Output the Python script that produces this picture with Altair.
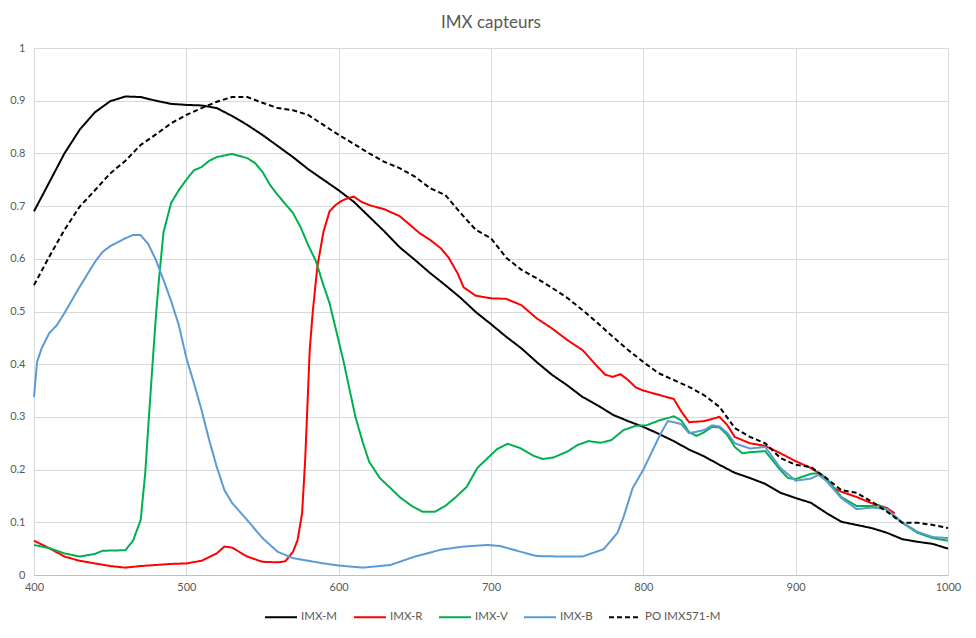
import altair as alt
import pandas as pd

# ---- data ----
series = ["IMX-M", "IMX-R", "IMX-V", "IMX-B", "PO IMX571-M"]
colors = ["#000000", "#FF0000", "#00B050", "#5B9BD5", "#000000"]
dashes = [[1, 0], [1, 0], [1, 0], [1, 0], [5, 3]]

grid_nm = list(range(400, 1001, 10))

imx_m = [0.69, 0.745, 0.80, 0.845, 0.878, 0.899, 0.908, 0.907, 0.90, 0.894,
         0.892, 0.891, 0.886, 0.871, 0.854, 0.835, 0.814, 0.793, 0.77, 0.75,
         0.73, 0.708, 0.68, 0.652, 0.622, 0.598, 0.573, 0.55, 0.526, 0.499,
         0.476, 0.452, 0.43, 0.404, 0.38, 0.36, 0.338, 0.322, 0.304, 0.292,
         0.281, 0.268, 0.254, 0.238, 0.225, 0.209, 0.194, 0.184, 0.173, 0.156,
         0.146, 0.137, 0.118, 0.101, 0.095, 0.089, 0.08, 0.068, 0.063, 0.059,
         0.05]

po_imx571_m = [0.55, 0.604, 0.655, 0.699, 0.73, 0.762, 0.786, 0.816, 0.836, 0.857,
               0.873, 0.886, 0.898, 0.907, 0.907, 0.896, 0.886, 0.882, 0.873, 0.854,
               0.835, 0.818, 0.80, 0.784, 0.772, 0.756, 0.734, 0.721, 0.687, 0.655,
               0.639, 0.602, 0.579, 0.563, 0.545, 0.526, 0.503, 0.478, 0.452, 0.427,
               0.404, 0.383, 0.37, 0.357, 0.341, 0.319, 0.279, 0.262, 0.25, 0.222,
               0.209, 0.205, 0.184, 0.161, 0.156, 0.139, 0.12, 0.099, 0.099, 0.095,
               0.089]

r_nm = [400, 410, 420, 430, 440, 450, 460, 470, 480, 490, 500, 510, 520, 525, 530,
        540, 550, 560, 565, 570, 573, 576, 578, 580, 581, 583, 586, 590, 594, 598,
        602, 606, 610, 615, 620, 630, 640, 647, 653, 660, 667, 672, 678, 682, 690,
        700, 710, 720, 730, 740, 750, 760, 770, 775, 780, 785, 790, 795, 800, 810,
        820, 825, 830, 840, 850, 855, 860, 870, 880, 890, 900, 910, 920, 925, 930,
        940, 950, 960, 965]
imx_r = [0.065, 0.051, 0.035, 0.027, 0.022, 0.017, 0.014, 0.017, 0.019, 0.021,
         0.022, 0.027, 0.041, 0.054, 0.052, 0.035, 0.025, 0.024, 0.026, 0.044,
         0.066, 0.117, 0.218, 0.357, 0.427, 0.50, 0.585, 0.651, 0.69, 0.702,
         0.71, 0.715, 0.718, 0.708, 0.702, 0.694, 0.681, 0.664, 0.649, 0.636,
         0.62, 0.603, 0.573, 0.546, 0.53, 0.525, 0.524, 0.512, 0.487, 0.468,
         0.446, 0.427, 0.395, 0.38, 0.376, 0.381, 0.37, 0.356, 0.35, 0.342,
         0.334, 0.31, 0.29, 0.292, 0.30, 0.285, 0.262, 0.25, 0.245, 0.231,
         0.216, 0.203, 0.184, 0.165, 0.158, 0.148, 0.136, 0.127, 0.117]

v_nm = [400, 410, 420, 430, 440, 445, 460, 465, 470, 473, 475, 478, 480, 482, 485,
        490, 495, 500, 505, 510, 515, 520, 530, 540, 545, 550, 555, 560, 570, 575,
        580, 585, 590, 594, 603, 611, 616, 620, 627, 634, 640, 648, 655, 663, 670,
        677, 684, 691, 704, 711, 719, 728, 734, 741, 750, 757, 764, 772, 779, 787,
        795, 802, 811, 820, 825, 830, 835, 840, 845, 850, 855, 860, 865, 870, 880,
        890, 895, 900, 910, 915, 920, 930, 940, 950, 955, 960, 970, 980, 990, 1000]
imx_v = [0.057, 0.051, 0.041, 0.035, 0.04, 0.046, 0.047, 0.065, 0.104, 0.193,
         0.281, 0.408, 0.49, 0.56, 0.65, 0.706, 0.73, 0.75, 0.768, 0.774,
         0.786, 0.793, 0.799, 0.791, 0.782, 0.765, 0.74, 0.721, 0.687, 0.66,
         0.626, 0.596, 0.55, 0.516, 0.408, 0.30, 0.25, 0.215, 0.184, 0.165,
         0.148, 0.131, 0.12, 0.12, 0.131, 0.148, 0.167, 0.203, 0.239, 0.249,
         0.241, 0.226, 0.22, 0.223, 0.234, 0.247, 0.254, 0.251, 0.256, 0.275,
         0.283, 0.284, 0.294, 0.301, 0.293, 0.271, 0.264, 0.271, 0.281, 0.28,
         0.266, 0.243, 0.231, 0.233, 0.235, 0.199, 0.184, 0.182, 0.192, 0.193,
         0.184, 0.148, 0.131, 0.131, 0.132, 0.123, 0.099, 0.08, 0.07, 0.065]

b_nm = [400, 402, 405, 410, 415, 420, 425, 430, 440, 445, 450, 460, 465, 470, 475,
        480, 485, 490, 495, 500, 505, 510, 515, 520, 525, 530, 540, 550, 560, 570,
        580, 590, 600, 616, 634, 649, 667, 682, 698, 706, 717, 730, 747, 760, 774,
        783, 787, 793, 800, 811, 816, 820, 825, 830, 840, 845, 850, 855, 860, 870,
        880, 890, 900, 910, 915, 920, 930, 940, 950, 960, 970, 980, 990, 1000]
imx_b = [0.338, 0.404, 0.43, 0.459, 0.474, 0.497, 0.522, 0.547, 0.594, 0.613,
         0.624, 0.639, 0.645, 0.645, 0.628, 0.598, 0.56, 0.52, 0.475, 0.412,
         0.364, 0.313, 0.256, 0.205, 0.161, 0.137, 0.104, 0.07, 0.044, 0.032,
         0.027, 0.022, 0.018, 0.014, 0.019, 0.034, 0.048, 0.054, 0.057, 0.055,
         0.046, 0.036, 0.035, 0.035, 0.049, 0.08, 0.11, 0.165, 0.2, 0.266,
         0.292, 0.29, 0.286, 0.269, 0.275, 0.284, 0.282, 0.27, 0.25, 0.24,
         0.243, 0.203, 0.179, 0.183, 0.19, 0.179, 0.146, 0.125, 0.128, 0.125,
         0.1, 0.082, 0.072, 0.07]

x_ticks = [400, 500, 600, 700, 800, 900, 1000]
y_ticks = [round(i / 10, 1) for i in range(0, 11)]

# ---- long table for the library ----
rows = []
for name, xs, ys in [
    ("IMX-M", grid_nm, imx_m),
    ("IMX-R", r_nm, imx_r),
    ("IMX-V", v_nm, imx_v),
    ("IMX-B", b_nm, imx_b),
    ("PO IMX571-M", grid_nm, po_imx571_m),
]:
    for x, y in zip(xs, ys):
        rows.append({"nm": x, "val": y, "serie": name})
df = pd.DataFrame(rows)

FONT = "Lato"
GREY = "#595959"

legend = alt.Legend(
    title=None,
    orient="none",
    legendX=230,
    legendY=552,
    direction="horizontal",
    symbolType="stroke",
    symbolSize=1024,
    symbolStrokeWidth=2,
    labelFont=FONT,
    labelFontSize=11.5,
    labelColor=GREY,
    labelOffset=3,
    columnPadding=12,
    padding=0,
)

chart = alt.Chart(df).mark_line(strokeWidth=2).encode(
    x=alt.X("nm:Q", scale=alt.Scale(domain=[400, 1000], nice=False, zero=False),
            axis=alt.Axis(values=x_ticks, title=None, format="d", ticks=False,
                          labelPadding=6, domainColor="#bfbfbf", labelFlush=False)),
    y=alt.Y("val:Q", scale=alt.Scale(domain=[0, 1], nice=False),
            axis=alt.Axis(values=y_ticks, title=None, format="~g", ticks=False,
                          domain=False, labelPadding=9)),
    color=alt.Color("serie:N", scale=alt.Scale(domain=series, range=colors), legend=legend),
    strokeDash=alt.StrokeDash("serie:N", scale=alt.Scale(domain=series, range=dashes), legend=legend),
).properties(
    width=914,
    height=527,
    title=alt.TitleParams("IMX capteurs", font=FONT, fontSize=17, fontWeight="normal",
                          color=GREY, anchor="middle", frame="group", offset=10),
    autosize=alt.AutoSizeParams(type="none"),
    padding={"left": 26, "top": 40, "right": 20, "bottom": 58},
).configure_axis(
    labelFont=FONT,
    labelFontSize=11,
    labelColor=GREY,
    gridColor="#d9d9d9",
    gridWidth=1,
).configure_view(
    strokeWidth=0,
)

chart.save("out.html", embed_options={"renderer": "svg", "actions": False})
